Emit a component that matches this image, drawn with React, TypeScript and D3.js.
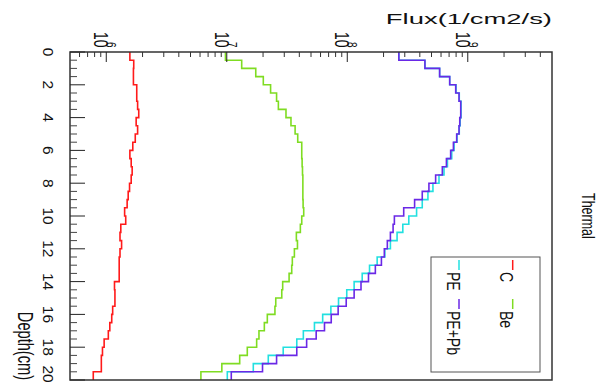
import * as d3 from "d3";

// depth bin edges: 40 bins of 0.5 cm from 0 to 20
const binWidth = 0.5;
const depthTicks = [0, 2, 4, 6, 8, 10, 12, 14, 16, 18, 20];
const decades = [6, 7, 8, 9];

// flux per bin (1/cm2/s)
const fluxC = [
  1.57e6, 1.69e6, 1.68e6, 1.68e6, 1.79e6, 1.79e6, 1.82e6, 1.86e6, 1.77e6, 1.82e6,
  1.74e6, 1.66e6, 1.57e6, 1.61e6, 1.64e6, 1.61e6, 1.56e6, 1.52e6, 1.49e6, 1.42e6,
  1.45e6, 1.32e6, 1.3e6, 1.34e6, 1.3e6, 1.28e6, 1.28e6, 1.28e6, 1.17e6, 1.18e6,
  1.18e6, 1.13e6, 1.11e6, 1.07e6, 1.04e6, 9.6e5, 9.3e5, 9.1e5, 9.1e5, 7.8e5,
];
const fluxBe = [
  9.75e6, 1.33e7, 1.74e7, 2.01e7, 2.31e7, 2.59e7, 2.68e7, 3.1e7, 3.41e7, 3.69e7,
  3.88e7, 4.19e7, 4.19e7, 4.22e7, 4.25e7, 4.28e7, 4.28e7, 4.28e7, 4.3e7, 4.35e7,
  4.19e7, 4.08e7, 3.78e7, 3.86e7, 3.64e7, 3.5e7, 3.46e7, 3.29e7, 2.91e7, 2.86e7,
  2.55e7, 2.51e7, 2.17e7, 2.05e7, 1.85e7, 1.77e7, 1.48e7, 1.28e7, 9.1e6, 6.1e6,
];
const fluxPE = [
  2.68e8, 4.41e8, 5.84e8, 7.08e8, 8.0e8, 8.5e8, 8.8e8, 8.8e8, 8.65e8, 8.5e8,
  8.15e8, 7.7e8, 7.36e8, 6.78e8, 6.35e8, 5.77e8, 5.14e8, 4.67e8, 4.19e8, 3.76e8,
  3.24e8, 2.89e8, 2.59e8, 2.28e8, 2.05e8, 1.77e8, 1.53e8, 1.33e8, 1.14e8, 9.9e7,
  8.46e7, 7.31e7, 6.25e7, 5.34e7, 4.32e7, 3.81e7, 2.94e7, 2.21e7, 1.66e7, 1.01e7,
];
const fluxPEPb = [
  2.68e8, 4.41e8, 5.84e8, 7.08e8, 7.94e8, 8.46e8, 8.74e8, 8.74e8, 8.58e8, 8.46e8,
  8.09e8, 7.6e8, 7.21e8, 6.65e8, 6.15e8, 5.41e8, 4.76e8, 4.19e8, 3.62e8, 2.94e8,
  2.46e8, 2.4e8, 2.28e8, 2.15e8, 2.03e8, 1.92e8, 1.71e8, 1.5e8, 1.3e8, 1.14e8,
  9.8e7, 8.4e7, 7.36e7, 6.47e7, 5.52e7, 4.6e7, 3.81e7, 2.59e7, 1.98e7, 1.09e7,
];

const series = [
  { name: "PE", values: fluxPE, color: "#22e0e0" },
  { name: "PE+Pb", values: fluxPEPb, color: "#6a28e6" },
  { name: "Be", values: fluxBe, color: "#7fdc22" },
  { name: "C", values: fluxC, color: "#ff1a1a" },
];

const W = 607;
const H = 387;
const left = 70;
const right = 552;
const top = 52;
const bottom = 380;
const font = "'Liberation Sans', Arial, Helvetica, sans-serif";

export default function App() {
  const y = d3.scaleLinear().domain([0, 20]).range([top, bottom]);
  const x = d3.scaleLog().domain([5e5, 5e9]).range([left, right]);

  const line = d3.line<[number, number]>();
  const histPath = (vals: number[]) => {
    const pts: [number, number][] = [];
    vals.forEach((v, i) => {
      pts.push([x(v), y(i * binWidth)]);
      pts.push([x(v), y((i + 1) * binWidth)]);
    });
    return line(pts) ?? "";
  };

  // minor depth ticks every 0.5 cm
  const minorDepth = d3.range(0, 20.001, 0.5).filter((d) => d % 2 !== 0);
  // log minor ticks
  const logMinor: number[] = [];
  for (let e = 5; e <= 9; e++) {
    for (let m = 2; m <= 9; m++) {
      const v = m * Math.pow(10, e);
      if (v > 5e5 && v < 5e9) logMinor.push(v);
    }
  }

  const legend = [
    { name: "C", color: "#ff1a1a", lx: 512.7, ly: 260, tx: 500, ty: 272 },
    { name: "Be", color: "#7fdc22", lx: 512.7, ly: 299, tx: 500, ty: 311 },
    { name: "PE", color: "#22e0e0", lx: 459, ly: 260, tx: 447, ty: 272 },
    { name: "PE+Pb", color: "#6a28e6", lx: 459, ly: 299, tx: 447, ty: 311 },
  ];

  return (
    <svg
      width={W}
      height={H}
      style={{ position: "absolute", left: 0, top: 0, background: "#fff" }}
      fontFamily={font}
    >
      <rect x={0} y={0} width={W} height={H} fill="#fff" />

      {/* histograms */}
      {series.map((s) => (
        <path
          key={s.name}
          d={histPath(s.values)}
          fill="none"
          stroke={s.color}
          strokeWidth={1.6}
        />
      ))}

      {/* frame */}
      <rect
        x={left}
        y={top}
        width={right - left}
        height={bottom - top}
        fill="none"
        stroke="#333"
        strokeWidth={1.5}
      />

      {/* depth axis ticks (left) */}
      {depthTicks.map((d) => (
        <line key={"M" + d} x1={left} x2={left + 15} y1={y(d)} y2={y(d)} stroke="#222" />
      ))}
      {minorDepth.map((d) => (
        <line key={"m" + d} x1={left} x2={left + 7} y1={y(d)} y2={y(d)} stroke="#444" />
      ))}
      {depthTicks.map((d) => (
        <text
          key={"L" + d}
          transform={`translate(43,${Math.min(y(d), bottom - 6)}) rotate(90)`}
          textAnchor="middle"
          fontSize={15.5}
          fill="#111"
        >
          {d}
        </text>
      ))}
      <text
        transform={`translate(18,${bottom}) rotate(90) scale(1,1.5)`}
        textAnchor="end"
        fontSize={14.6}
        fill="#111"
      >
        Depth(cm)
      </text>

      {/* flux axis ticks (top) */}
      {decades.map((e) => (
        <line
          key={"D" + e}
          x1={x(Math.pow(10, e))}
          x2={x(Math.pow(10, e))}
          y1={top}
          y2={top + 10}
          stroke="#222"
        />
      ))}
      {logMinor.map((v) => (
        <line key={"lm" + v} x1={x(v)} x2={x(v)} y1={top} y2={top + 5} stroke="#333" />
      ))}
      {decades.map((e) => (
        <text
          key={"DL" + e}
          transform={`translate(${x(Math.pow(10, e)) - 12},32) rotate(90) scale(1,1.4)`}
          fontSize={14}
          fill="#111"
        >
          <tspan>10</tspan>
          <tspan x={10} y={-8.6} fontSize={10}>
            {e}
          </tspan>
        </text>
      ))}
      <text
        transform={`translate(${right},24) scale(1.83,1)`}
        textAnchor="end"
        fontSize={15}
        fill="#111"
      >
        Flux(1/cm2/s)
      </text>

      {/* title */}
      <text
        transform={`translate(582,193) rotate(90) scale(1,1.4)`}
        fontSize={12.5}
        fill="#111"
      >
        Thermal
      </text>

      {/* legend */}
      <rect x={431} y={257} width={109} height={115} fill="#fff" stroke="#555" strokeWidth={1} />
      {legend.map((l) => (
        <g key={l.name}>
          <line x1={l.lx} x2={l.lx} y1={l.ly} y2={l.ly + 10} stroke={l.color} strokeWidth={1.5} />
          <text
            transform={`translate(${l.tx},${l.ty}) rotate(90) scale(1,1.35)`}
            fontSize={14}
            fill="#111"
          >
            {l.name}
          </text>
        </g>
      ))}
    </svg>
  );
}
